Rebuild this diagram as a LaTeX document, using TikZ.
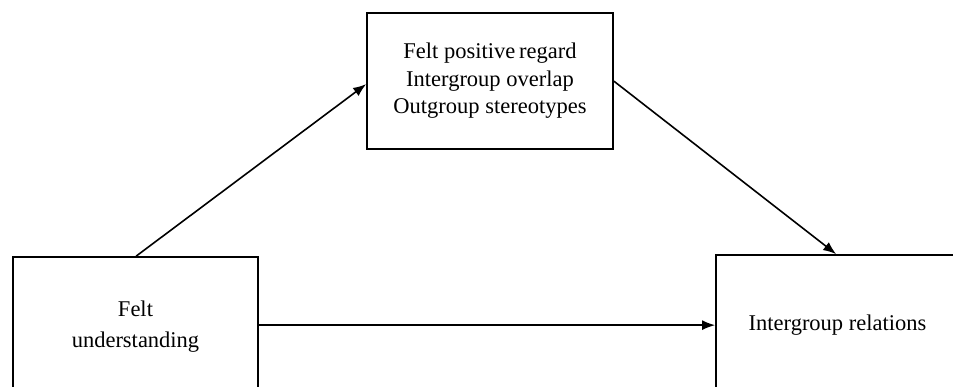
\documentclass[tikz,border=0pt]{standalone}
\usepackage{fontspec}
\setmainfont{Liberation Serif}
\usetikzlibrary{arrows.meta}
\begin{document}
\begin{tikzpicture}[x=1pt,y=1pt,
  box/.style={draw=black, line width=1.7pt, rectangle, inner sep=0pt, align=center,
    font=\fontsize{22.5}{27.5}\selectfont},
  arr/.style={line width=1.6pt, -{Latex[length=13pt,width=10pt]}}]
\useasboundingbox (0,0) rectangle (953,387);
\clip (0,0) rectangle (953,387);
\fill[white] (0,0) rectangle (953,387);
% top box (367,13)-(613,149)
\node[box, minimum width=246pt, minimum height=136pt] (tb) at (490,306)
  {Felt positive\,regard\\Intergroup overlap\\Outgroup stereotypes};
% left box (13,257)-(258,397)
\node[box, minimum width=245pt, minimum height=140pt, font=\fontsize{22.5}{31}\selectfont] (lb) at (135.5,60)
  {Felt\\understanding};
% right box (716,255)-(959,395)
\node[box, minimum width=243pt, minimum height=140pt] (rb) at (837.5,62)
  {Intergroup relations};
\draw[arr] ([xshift=124pt]lb.north west) -- ([yshift=-72pt]tb.north west);
\draw[arr] ([yshift=-69pt]tb.north east) -- ([xshift=121pt]rb.north west);
\draw[arr] ([yshift=-69pt]lb.north east) -- ([yshift=-71pt]rb.north west);
\end{tikzpicture}
\end{document}
